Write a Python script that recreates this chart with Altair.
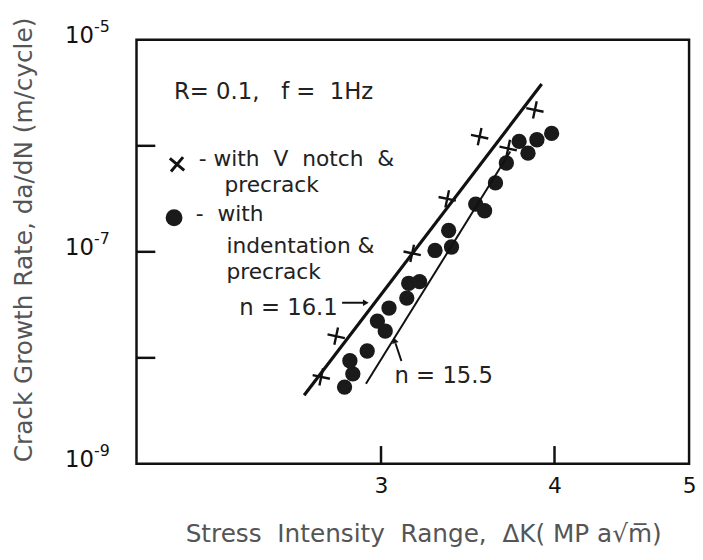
import altair as alt
import pandas as pd

# ---- data ----
notch_dk = [2.717, 2.785, 3.159, 3.348, 3.533, 3.704, 3.872]
notch_rate = [6.61e-9, 1.60e-8, 9.68e-8, 3.16e-7, 1.22e-6, 9.43e-7, 2.18e-6]

indent_dk = [2.824, 2.863, 2.849, 2.932, 3.021, 2.982, 3.040, 3.131, 3.141, 3.198,
             3.281, 3.372, 3.356, 3.510, 3.562, 3.627, 3.693, 3.772, 3.828, 3.885, 3.981]
indent_rate = [5.30e-9, 7.06e-9, 9.39e-9, 1.16e-8, 1.79e-8, 2.22e-8, 2.95e-8, 3.66e-8, 5.05e-8, 5.23e-8,
               1.03e-7, 1.11e-7, 1.59e-7, 2.82e-7, 2.44e-7, 4.47e-7, 6.88e-7, 1.10e-6, 8.52e-7, 1.14e-6, 1.31e-6]

fit_notch_dk = [2.641, 3.916]
fit_notch_rate = [4.43e-9, 3.83e-6]
fit_indent_dk = [2.926, 3.717]
fit_indent_rate = [5.69e-9, 8.84e-7]

x_label_values = [3, 4, 5]
x_tick_values = [3, 4]
y_label_values = [1e-9, 1e-7, 1e-5]
y_label_base = ["10", "10", "10"]
y_label_exp = ["-9", "-7", "-5"]
y_tick_values = [1e-8, 1e-7, 1e-6]

FONT = "DejaVu Sans"
W, H = 559, 429
S = "\u00a0"

xscale = alt.Scale(type="log", domain=[2, 5], nice=False)
yscale = alt.Scale(type="log", domain=[1e-9, 1e-5], nice=False)

notch_df = pd.DataFrame({"dk": notch_dk, "rate": notch_rate})
indent_df = pd.DataFrame({"dk": indent_dk, "rate": indent_rate})
fit1_df = pd.DataFrame({"dk": fit_notch_dk, "rate": fit_notch_rate})
fit2_df = pd.DataFrame({"dk": fit_indent_dk, "rate": fit_indent_rate})
ytick_df = pd.DataFrame({"dk": [3.0] * len(y_tick_values), "rate": y_tick_values})
xtick_df = pd.DataFrame({"dk": x_tick_values, "rate": [1e-7] * len(x_tick_values)})
ylab_df = pd.DataFrame({"dk": [3.0] * 3, "rate": y_label_values,
                        "base": y_label_base, "exp": y_label_exp})
one = pd.DataFrame({"a": [0]})

CROSS = "M-1,0L1,0M0,-1L0,1"

x_axis = alt.Axis(values=x_label_values, ticks=False, tickSize=0, domain=False, grid=False,
                  labelFontSize=22, labelPadding=12, labelColor="#111", labelFont=FONT,
                  labelFlush=False,
                  title=f"Stress{S}{S}Intensity{S}{S}Range,{S}{S}ΔK({S}MP{S}a√m̅)",
                  titleFont=FONT, titleFontSize=25, titleFontWeight="normal", titleColor="#555",
                  titleX=290, titleY=71, titleBaseline="middle", titleAlign="center")
y_axis = alt.Axis(values=y_label_values, ticks=False, tickSize=0, domain=False, grid=False,
                  labels=False,
                  title="Crack Growth Rate, da/dN (m/cycle)", titleFont=FONT,
                  titleFontSize=25, titleFontWeight="normal", titleColor="#555",
                  titleX=-114, titleY=202, titleAngle=270, titleBaseline="middle", titleAlign="center")

X = alt.X("dk:Q", scale=xscale, axis=x_axis)
Y = alt.Y("rate:Q", scale=yscale, axis=y_axis)

dots = alt.Chart(indent_df).mark_circle(size=240, color="#1a1a1a", opacity=1).encode(x=X, y=Y)
crosses = alt.Chart(notch_df).mark_point(shape=CROSS, filled=False, size=320, strokeWidth=2.4,
                                         color="#111", angle=12, opacity=1).encode(x=X, y=Y)
fit1 = alt.Chart(fit1_df).mark_line(color="#111", strokeWidth=3.2).encode(x=X, y=Y)
fit2 = alt.Chart(fit2_df).mark_line(color="#111", strokeWidth=2).encode(x=X, y=Y)
yticks = alt.Chart(ytick_df).mark_rule(color="#111", strokeWidth=2.5).encode(
    y=Y, x=alt.value(0), x2=alt.value(19))
xticks = alt.Chart(xtick_df).mark_rule(color="#111", strokeWidth=2.5).encode(
    x=X, y=alt.value(H), y2=alt.value(H - 18))

ylab_base = alt.Chart(ylab_df).mark_text(align="right", baseline="middle", font=FONT,
                                         fontSize=23, color="#111", dy=-4).encode(
    y=Y, x=alt.value(-43), text="base:N")
ylab_exp = alt.Chart(ylab_df).mark_text(align="left", baseline="middle", font=FONT,
                                        fontSize=16, color="#111", dy=-13).encode(
    y=Y, x=alt.value(-43), text="exp:N")


def txt(s, x, y, size=22):
    return alt.Chart(one).mark_text(align="left", baseline="middle", font=FONT,
                                    fontSize=size, color="#222").encode(
        x=alt.value(x), y=alt.value(y), text=alt.value(s))


texts = [
    txt(f"R={S}0.1,{S}{S}{S}f{S}={S}{S}1Hz", 38, 53, 23),
    txt(f"-{S}with{S}{S}V{S}{S}notch{S}{S}&", 63, 121),
    txt("precrack", 89, 147),
    txt(f"-{S}{S}with", 60, 176),
    txt(f"indentation{S}&", 91, 209),
    txt("precrack", 91, 235),
    txt(f"n{S}={S}16.1", 104, 271, 23),
    txt(f"n{S}={S}15.5", 261, 340, 23),
]

leg_cross = alt.Chart(one).mark_point(shape=CROSS, filled=False, size=360, strokeWidth=3,
                                      color="#111", angle=40, opacity=1).encode(
    x=alt.value(41), y=alt.value(126))
leg_dot = alt.Chart(one).mark_circle(size=290, color="#1a1a1a", opacity=1).encode(
    x=alt.value(38), y=alt.value(180))

arrow1 = alt.Chart(one).mark_rule(color="#111", strokeWidth=2).encode(
    x=alt.value(208), x2=alt.value(230), y=alt.value(266), y2=alt.value(266))
head1 = alt.Chart(one).mark_point(shape="triangle-right", filled=True, size=45, color="#111",
                                  opacity=1).encode(x=alt.value(232), y=alt.value(266))
arrow2 = alt.Chart(one).mark_rule(color="#111", strokeWidth=2).encode(
    x=alt.value(268), x2=alt.value(262), y=alt.value(325), y2=alt.value(307))
head2 = alt.Chart(one).mark_point(shape="triangle-up", filled=True, size=45, color="#111",
                                  angle=342, opacity=1).encode(x=alt.value(261), y=alt.value(304))

chart = alt.layer(dots, crosses, fit1, fit2, yticks, xticks, ylab_base, ylab_exp,
                  leg_cross, leg_dot, arrow1, head1, arrow2, head2, *texts).properties(
    width=W, height=H,
    autosize=alt.AutoSizeParams(type="none"),
    padding={"left": 130, "top": 29, "right": 6, "bottom": 86},
    background="white",
).configure_view(stroke="#111", strokeWidth=2.5)

chart.save("out.html", embed_options={"renderer": "svg", "actions": False})
